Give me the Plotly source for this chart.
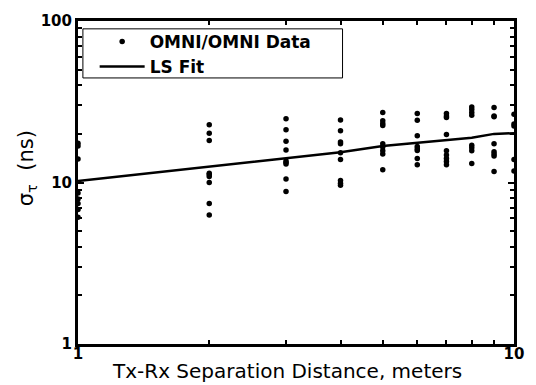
import plotly.graph_objects as go

# ---- data ----
distance_m = [1, 2, 3, 4, 5, 6, 7, 8, 9, 10]
rms_delay_ns = {
    1: [17.5, 16.8, 14.0, 8.6, 7.9, 7.4, 6.8, 6.1],
    2: [22.8, 20.2, 18.2, 11.4, 11.2, 10.9, 10.0, 7.4, 6.3],
    3: [24.8, 21.2, 18.0, 15.9, 13.6, 13.3, 13.0, 10.5, 8.8],
    4: [24.4, 20.9, 17.8, 17.4, 15.3, 13.9, 10.3, 9.9, 9.6],
    5: [27.1, 24.1, 23.2, 22.5, 17.4, 16.6, 15.7, 15.0, 12.0],
    6: [26.7, 24.3, 19.5, 16.7, 16.2, 15.8, 14.1, 12.9],
    7: [26.7, 25.8, 25.3, 19.8, 15.7, 14.8, 14.1, 13.5, 12.9],
    8: [29.3, 28.3, 27.1, 26.1, 17.0, 16.4, 15.7, 13.1],
    9: [29.1, 25.8, 25.5, 17.4, 15.5, 15.0, 14.6, 11.7],
    10: [26.5, 23.0, 22.4, 13.9, 11.8],
}
ls_fit_ns = [10.2, 12.5, 14.2, 15.4, 16.8, 17.6, 18.4, 18.9, 20.0, 20.2]

x_tick_vals = [1, 10]
x_tick_text = ["1", "10"]
y_tick_vals = [1, 10, 100]
y_tick_text = ["1", "10", "100"]

pts_x, pts_y = [], []
for d in distance_m:
    for v in rms_delay_ns[d]:
        pts_x.append(d)
        pts_y.append(v)

fig = go.Figure()
fig.add_trace(go.Scatter(x=pts_x, y=pts_y, mode="markers", name="OMNI/OMNI Data",
                         marker=dict(color="black", size=5.5)))
fig.add_trace(go.Scatter(x=distance_m, y=ls_fit_ns, mode="lines", name="LS Fit",
                         line=dict(color="black", width=2.5)))

tickfont = dict(family="DejaVu Sans", size=15, color="black", weight="bold")

fig.update_xaxes(type="log", range=[0, 1], showgrid=False, zeroline=False,
                 showline=True, linecolor="black", linewidth=3, mirror="allticks",
                 ticks="inside", ticklen=6, tickwidth=1.5, tickcolor="black",
                 tickvals=x_tick_vals, ticktext=x_tick_text, tickfont=tickfont,
                 ticklabelstandoff=-6,
                 minor=dict(tickvals=[2, 3, 4, 5, 6, 7, 8, 9], ticks="inside",
                            ticklen=4, tickwidth=1.5, tickcolor="black", showgrid=False))
fig.update_yaxes(type="log", range=[0, 2], showgrid=False, zeroline=False,
                 showline=True, linecolor="black", linewidth=3, mirror="allticks",
                 ticks="inside", ticklen=6, tickwidth=1.5, tickcolor="black",
                 tickvals=y_tick_vals, ticktext=y_tick_text, tickfont=tickfont,
                 minor=dict(tickvals=[2, 3, 4, 5, 6, 7, 8, 9, 20, 30, 40, 50, 60, 70, 80, 90],
                            ticks="inside", ticklen=4, tickwidth=1.5, tickcolor="black",
                            showgrid=False))

fig.update_layout(
    width=536, height=385,
    margin=dict(l=78, r=13, t=15, b=41),
    plot_bgcolor="white", paper_bgcolor="white",
    showlegend=True,
    legend=dict(x=(95 - 78) / 445, y=(344 - 18) / 329, xanchor="left", yanchor="top",
                bgcolor="rgba(0,0,0,0)", borderwidth=0, itemwidth=45,
                font=dict(family="DejaVu Sans", size=17, color="black", weight="bold"),
                tracegroupgap=0),
    shapes=[dict(type="rect", xref="paper", yref="paper",
                 x0=(83 - 78) / 445, x1=(348 - 78) / 445,
                 y0=(344 - 73) / 329, y1=(344 - 23) / 329,
                 line=dict(color="black", width=1), fillcolor="rgba(0,0,0,0)")],
    annotations=[
        dict(text="Tx-Rx Separation Distance, meters", xref="paper", yref="paper",
             x=(291 - 78) / 445, y=-(372 - 344) / 329, xanchor="center", yanchor="middle",
             showarrow=False, font=dict(family="DejaVu Sans", size=20, color="black")),
        dict(text="σ<sub>τ</sub>  (ns)", xref="paper", yref="paper",
             x=-(78 - 26) / 445, y=(344 - 165) / 329, xanchor="center", yanchor="middle",
             textangle=-90, showarrow=False,
             font=dict(family="DejaVu Sans", size=21, color="black")),
    ],
)

fig.write_html("out.html")
